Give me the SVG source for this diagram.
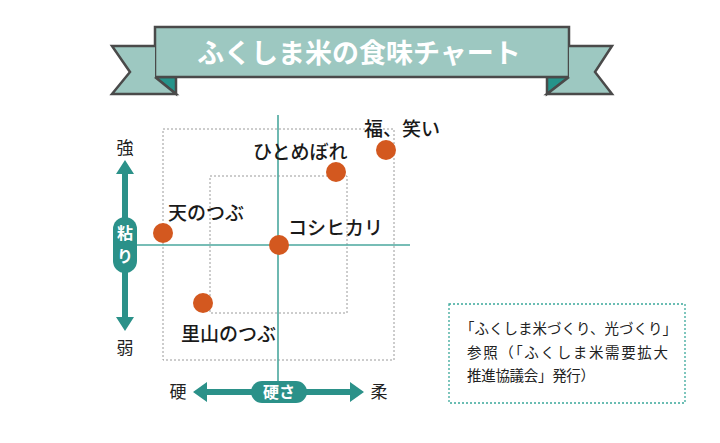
<svg xmlns="http://www.w3.org/2000/svg" width="720" height="443" viewBox="0 0 720 443">
<style>
.rib{fill:#9dc8c1;stroke:#4a4a4a;stroke-width:2.5;stroke-linejoin:miter}
.fold{fill:#25938a;stroke:#4a4a4a;stroke-width:2.5}
.teal{fill:#2b9189}
.axis{stroke:#4aa79e;stroke-width:1.6;fill:none}
.dot{stroke:#9a9a9a;stroke-width:1;stroke-dasharray:2 2;fill:none}
.pt{fill:#d3581f}
.lbl{font-family:"Noto Sans CJK JP","Noto Sans",sans-serif;font-size:19px;font-weight:500;fill:#1a1a1a}
.ax{font-family:"Noto Sans CJK JP","Noto Sans",sans-serif;font-size:17px;fill:#222;text-anchor:middle}
.wb{font-family:"Noto Sans CJK JP","Noto Sans",sans-serif;font-weight:bold;fill:#fff;text-anchor:middle}
.note{font-family:"Noto Sans CJK JP","Noto Sans",sans-serif;font-size:14.5px;fill:#222}
</style>
<rect width="720" height="443" fill="#fff"/>
<g id="title">
<polygon class="fold" points="155,77 176,77 176,94"/>
<polygon class="fold" points="569,77 547,77 547,94"/>
<polygon class="rib" points="155,27 569,27 569,77 155,77"/>
<polygon points="155,77 176,94 112,94 130,72 112,46 155,46" fill="#9dc8c1" stroke="none"/>
<polyline points="155,77 176,94 112,94 130,72 112,46 155,46" fill="none" stroke="#4a4a4a" stroke-width="2.5"/>
<polygon points="569,77 547,94 612,94 595,72 612,46 569,46" fill="#9dc8c1" stroke="none"/>
<polyline points="569,77 547,94 612,94 595,72 612,46 569,46" fill="none" stroke="#4a4a4a" stroke-width="2.5"/>
<text class="wb" x="359" y="63" font-size="27">ふくしま米の食味チャート</text>
</g>
<g id="grid">
<rect class="dot" x="163" y="129" width="231" height="231"/>
<rect class="dot" x="210" y="176" width="137" height="137"/>
</g>
<g id="connectors">
<line class="axis" x1="278" y1="115" x2="278" y2="382"/>
<line class="axis" x1="136" y1="245" x2="410" y2="245"/>
</g>
<g id="axis-y">
<polygon class="teal" points="125,160 134,174 128,174 128,218 122,218 122,174 116,174"/>
<polygon class="teal" points="125,331 134,317 128,317 128,272 122,272 122,317 116,317"/>
<rect class="teal" x="113" y="217" width="24" height="56" rx="12"/>
<text class="wb" x="125" y="239" font-size="16">粘</text>
<text class="wb" x="125" y="262" font-size="16">り</text>
<text class="ax" x="125" y="154">強</text>
<text class="ax" x="125" y="354">弱</text>
</g>
<g id="axis-x">
<polygon class="teal" points="193,392 207,382 207,389 252,389 252,395 207,395 207,402"/>
<polygon class="teal" points="364,392 350,382 350,389 306,389 306,395 350,395 350,402"/>
<rect class="teal" x="251" y="381" width="56" height="22" rx="11"/>
<text class="wb" x="279" y="398" font-size="16">硬さ</text>
<text class="ax" x="178" y="398">硬</text>
<text class="ax" x="379" y="398">柔</text>
</g>
<g id="fukuwarai"><circle class="pt" cx="386" cy="150" r="10"/><text class="lbl" x="364" y="136">福、笑い</text></g>
<g id="hitomebore"><circle class="pt" cx="336" cy="172" r="10"/><text class="lbl" x="253" y="159">ひとめぼれ</text></g>
<g id="tennotsubu"><circle class="pt" cx="163" cy="233" r="10"/><text class="lbl" x="168" y="220">天のつぶ</text></g>
<g id="koshihikari"><circle class="pt" cx="279" cy="245" r="10"/><text class="lbl" x="288" y="235">コシヒカリ</text></g>
<g id="satoyama"><circle class="pt" cx="203" cy="303" r="10"/><text class="lbl" x="181" y="341">里山のつぶ</text></g>
<g id="note">
<rect x="449" y="304" width="236" height="99" fill="none" stroke="#3aa89a" stroke-width="1.3" stroke-dasharray="2 2"/>
<text class="note" x="460" y="334" textLength="217" lengthAdjust="spacing">「ふくしま米づくり、光づくり」</text>
<text class="note" x="467" y="358" textLength="201" lengthAdjust="spacing">参照（「ふくしま米需要拡大</text>
<text class="note" x="467" y="381" textLength="128" lengthAdjust="spacing">推進協議会」発行）</text>
</g>
</svg>
